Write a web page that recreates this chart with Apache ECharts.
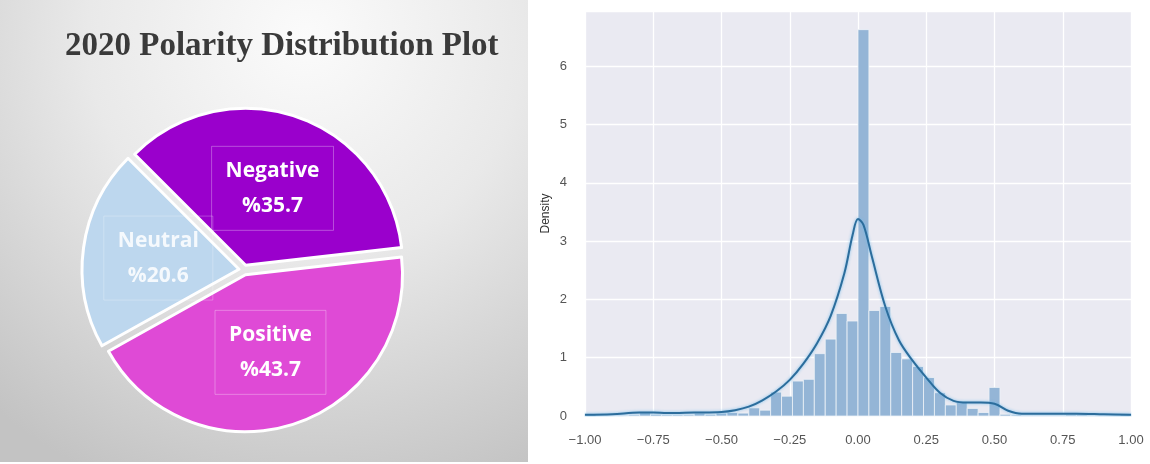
<!DOCTYPE html>
<html>
<head>
<meta charset="utf-8">
<script src="https://cdn.jsdelivr.net/npm/echarts@6/dist/echarts.min.js"></script>
<style>
  html, body { margin: 0; padding: 0; background: #ffffff; }
  #chart { width: 1150px; height: 464px; }
</style>
</head>
<body>
<div id="chart"></div>
<script>
// ---------- Pie data ----------
const pieTitle = '2020 Polarity Distribution Plot';
const pieCategories = ['Negative', 'Positive', 'Neutral'];
const pieValues = [35.7, 43.7, 20.6];
const pieColors = ['#9a00cc', '#df4ad6', '#bdd7ee'];

// ---------- Histogram data (bin left edges and densities) ----------
const BIN_WIDTH = 0.04;
const histX = [-1.00, -0.96, -0.92, -0.88, -0.84, -0.80, -0.76, -0.72, -0.68, -0.64,
               -0.60, -0.56, -0.52, -0.48, -0.44, -0.40, -0.36, -0.32, -0.28, -0.24,
               -0.20, -0.16, -0.12, -0.08, -0.04,  0.00,  0.04,  0.08,  0.12,  0.16,
                0.20,  0.24,  0.28,  0.32,  0.36,  0.40,  0.44,  0.48,  0.52,  0.56,
                0.60,  0.64,  0.68,  0.72,  0.76,  0.80,  0.84,  0.88,  0.92,  0.96];
const histY = [0.03, 0.00, 0.00, 0.01, 0.02, 0.06, 0.03, 0.02, 0.02, 0.02,
               0.05, 0.03, 0.05, 0.06, 0.05, 0.14, 0.10, 0.41, 0.34, 0.60,
               0.63, 1.07, 1.32, 1.76, 1.63, 6.63, 1.81, 1.88, 1.09, 0.98,
               0.85, 0.66, 0.40, 0.19, 0.25, 0.13, 0.06, 0.49, 0.03, 0.02,
               0.01, 0.01, 0.01, 0.01, 0.02, 0.02, 0.01, 0.01, 0.01, 0.03];

// ---------- KDE curve ----------
const kdeX = [-1.00, -0.90, -0.80, -0.75, -0.70, -0.60, -0.50, -0.45, -0.40, -0.35,
              -0.30, -0.25, -0.20, -0.15, -0.10, -0.05, -0.02, 0.00, 0.02, 0.05,
               0.10, 0.15, 0.20, 0.25, 0.30, 0.35, 0.40, 0.45, 0.50, 0.55,
               0.60, 0.70, 0.80, 0.90, 1.00];
const kdeY = [0.02, 0.03, 0.06, 0.06, 0.05, 0.06, 0.07, 0.10, 0.16, 0.27,
              0.42, 0.62, 0.90, 1.25, 1.72, 2.45, 3.10, 3.38, 3.28, 2.75,
              1.88, 1.30, 0.95, 0.66, 0.40, 0.26, 0.23, 0.23, 0.21, 0.09,
              0.04, 0.04, 0.04, 0.03, 0.02];

// ---------- Axis ticks ----------
const xTicks = [-1.00, -0.75, -0.50, -0.25, 0.00, 0.25, 0.50, 0.75, 1.00];
const yTicks = [0, 1, 2, 3, 4, 5, 6];

const chart = echarts.init(document.getElementById('chart'), null, { renderer: 'canvas' });

const pieData = pieCategories.map((name, i) => ({
  name: name,
  value: pieValues[i],
  selected: true,
  itemStyle: { color: pieColors[i] },
  label: name === 'Neutral'
    ? { color: 'rgba(255,255,255,0.85)', borderColor: 'rgba(255,255,255,0.25)' }
    : {}
}));

const histData = histX.map((x, i) => [x, +(x + BIN_WIDTH).toFixed(2), histY[i]]);
const kdeData = kdeX.map((x, i) => [x, kdeY[i]]);

const option = {
  backgroundColor: '#ffffff',
  animation: false,
  graphic: [{
    type: 'rect',
    z: -10,
    silent: true,
    shape: { x: 0, y: 0, width: 528, height: 462 },
    style: {
      fill: {
        type: 'radial', x: 0.58, y: 0.08, r: 1.05,
        colorStops: [
          { offset: 0, color: '#fbfbfb' },
          { offset: 0.45, color: '#e9e9e9' },
          { offset: 1, color: '#c3c3c3' }
        ]
      }
    }
  }],
  title: {
    text: pieTitle,
    left: 60,
    top: 25,
    textStyle: {
      fontFamily: 'Liberation Serif',
      fontWeight: 'bold',
      fontSize: 33,
      color: '#3a3a3a'
    }
  },
  grid: {
    left: 585, right: 19, top: 11, bottom: 48,
    show: true, backgroundColor: '#eaeaf2', borderWidth: 0
  },
  xAxis: {
    type: 'value',
    min: -1, max: 1, interval: 0.25,
    axisLine: { show: false },
    axisTick: { show: false },
    splitLine: { show: true, lineStyle: { color: '#ffffff', width: 1.3 } },
    axisLabel: {
      color: '#555555', fontSize: 13, margin: 18,
      fontFamily: 'Liberation Sans',
      formatter: v => (v < 0 ? '\u2212' : '') + Math.abs(v).toFixed(2)
    }
  },
  yAxis: {
    type: 'value',
    min: 0, max: 6.95, interval: 1,
    name: 'Density',
    nameLocation: 'middle',
    nameGap: 33,
    nameTextStyle: { color: '#333333', fontSize: 12, fontFamily: 'Liberation Sans' },
    axisLine: { show: false },
    axisTick: { show: false },
    splitLine: { show: true, lineStyle: { color: '#ffffff', width: 1.3 } },
    axisLabel: {
      color: '#555555', fontSize: 13, margin: 18,
      fontFamily: 'Liberation Sans',
      showMaxLabel: false,
      formatter: v => (yTicks.indexOf(v) >= 0 ? String(v) : '')
    }
  },
  series: [
    {
      type: 'pie',
      center: [244, 270],
      radius: 157,
      startAngle: 135,
      clockwise: true,
      selectedMode: 'multiple',
      selectedOffset: 5,
      avoidLabelOverlap: false,
      labelLayout: { hideOverlap: false },
      itemStyle: { borderColor: '#ffffff', borderWidth: 3 },
      select: { itemStyle: { borderColor: '#ffffff', borderWidth: 3 } },
      emphasis: { disabled: true },
      label: {
        show: true,
        position: 'inside',
        formatter: p => p.name + '\n%' + p.value.toFixed(1),
        color: '#ffffff',
        fontFamily: 'Open Sans',
        fontWeight: 'bold',
        fontSize: 21,
        lineHeight: 35,
        padding: [6, 14, 8, 14],
        borderColor: 'rgba(255,255,255,0.3)',
        borderWidth: 1
      },
      labelLine: { show: false },
      data: pieData
    },
    {
      type: 'custom',
      name: 'hist',
      xAxisIndex: 0, yAxisIndex: 0,
      encode: { x: [0, 1], y: 2 },
      renderItem: function (params, api) {
        const h = api.value(2);
        if (!h) return;
        const tl = api.coord([api.value(0), h]);
        const br = api.coord([api.value(1), 0]);
        return {
          type: 'rect',
          shape: { x: tl[0], y: tl[1], width: br[0] - tl[0], height: br[1] - tl[1] },
          style: { fill: '#94b5d6', stroke: '#eef2f8', lineWidth: 0.8 }
        };
      },
      data: histData,
      z: 2
    },
    {
      type: 'line',
      name: 'kde',
      data: kdeData,
      smooth: 0.35,
      showSymbol: false,
      symbol: 'none',
      lineStyle: {
        color: '#2c6d9c', width: 2,
        shadowColor: 'rgba(110,185,235,0.9)', shadowBlur: 3
      },
      z: 3
    }
  ]
};

chart.setOption(option);
</script>
</body>
</html>
